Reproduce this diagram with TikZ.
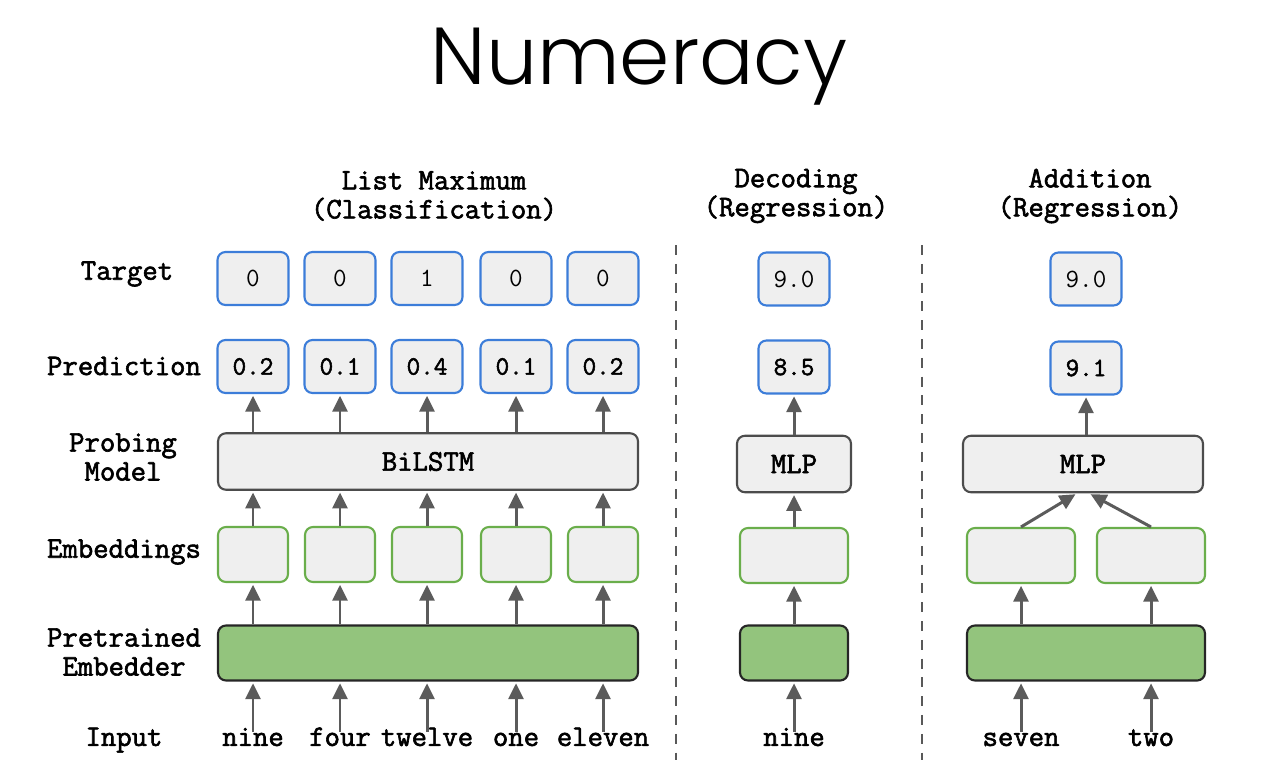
\documentclass[tikz,border=0pt]{standalone}
\usepackage{fontspec}
\setmonofont{Latin Modern Mono}[AutoFakeBold=2]
\newfontfamily\titlefont{Poppins}[UprightFont=* Light]
\usetikzlibrary{arrows.meta}
\definecolor{boxgray}{HTML}{EFEFEF}
\definecolor{blueline}{HTML}{3C7DD9}
\definecolor{greenline}{HTML}{6AAE4B}
\definecolor{greenfill}{HTML}{93C47D}
\definecolor{arrowgray}{HTML}{5B5B5B}
\tikzset{
  lbl/.style = {font=\ttfamily\bfseries\fontsize{17}{16.5}\selectfont, align=center, inner sep=1pt},
  word/.style = {lbl, text height=1.6ex, text depth=0.3ex},
  valbox/.style = {rectangle, rounded corners=4.5pt, draw=blueline, line width=1.2pt, fill=boxgray,
    minimum width=1.42cm, minimum height=1.06cm, font=\ttfamily\fontsize{15}{17}\selectfont},
  predbox/.style = {valbox, font=\ttfamily\bfseries\fontsize{15}{17}\selectfont},
  modelbox/.style = {rectangle, rounded corners=4.5pt, draw=black!70, line width=1.2pt, fill=boxgray,
    minimum height=1.13cm, font=\ttfamily\bfseries\fontsize{17}{19}\selectfont},
  embbox/.style = {rectangle, rounded corners=4.5pt, draw=greenline, line width=1.2pt, fill=boxgray,
    minimum width=1.4cm, minimum height=1.1cm},
  pretbox/.style = {rectangle, rounded corners=4.5pt, draw=black!85, line width=1.2pt, fill=greenfill,
    minimum height=1.1cm},
  arr/.style = {draw=arrowgray, fill=arrowgray, line width=1.7pt, shorten >=1pt,
    -{Triangle[width=8.5pt, length=9pt]}},
  divider/.style = {draw=black!65, line width=1.1pt, dash pattern=on 5.7pt off 5pt}
}
\begin{document}
\begin{tikzpicture}[x=0.02cm, y=-0.02cm]
\useasboundingbox (0,0) rectangle (1270,778);
\node (title) at (639,84) [anchor=base, font=\titlefont\fontsize{46}{50}\selectfont] {Numeracy};

% row labels
\node (lTarget) at (127,274) [lbl] {Target};
\node (lPred) at (124,366) [lbl] {Prediction};
\node (lProbe) at (123,457) [lbl] {Probing\\Model};
\node (lEmb) at (124,552) [lbl] {Embeddings};
\node (lPret) at (124,652) [lbl] {Pretrained\\Embedder};
\node (lInput) at (124,741) [word] {Input};

% column titles
\node (tList) at (434,196) [lbl] {List Maximum\\(Classification)};
\node (tDec) at (796,196) [lbl] {Decoding\\(Regression)};
\node (tAdd) at (1090,196) [lbl] {Addition\\(Regression)};

% dividers
\coordinate (d1top) at (676,245);
\coordinate (d1bot) at (676,760);
\coordinate (d2top) at (922,245);
\coordinate (d2bot) at (922,760);
\draw [divider] (d1top) -- (d1bot);
\draw [divider] (d2top) -- (d2bot);

% list maximum
\node (bilstm) at (428,461.5) [modelbox, minimum width=8.4cm] {BiLSTM};
\node (pretL) at (428,653) [pretbox, minimum width=8.4cm] {};
\foreach \i/\x/\t/\p/\w in {1/253/0/0.2/nine, 2/340/0/0.1/four, 3/427/1/0.4/twelve,
                            4/516/0/0.1/one, 5/603/0/0.2/eleven} {
  \node (tgt\i) at (\x,278.5) [valbox] {\t};
  \node (pred\i) at (\x,366.5) [predbox] {\p};
  \node (emb\i) at (\x,554.5) [embbox] {};
  \node (in\i) at (\x,741) [word] {\w};
  \draw [arr] (pred\i |- bilstm.north) -- (pred\i.south);
  \draw [arr] (emb\i.north) -- (emb\i |- bilstm.south);
  \draw [arr] (emb\i |- pretL.north) -- (emb\i.south);
  \draw [arr] (in\i.north) -- (in\i |- pretL.south);
}

% decoding
\node (tgtD) at (794,279) [valbox] {9.0};
\node (predD) at (794,367) [predbox] {8.5};
\node (mlpD) at (794,464) [modelbox, minimum width=2.28cm] {MLP};
\node (embD) at (794,555.5) [embbox, minimum width=2.16cm] {};
\node (pretD) at (794,653) [pretbox, minimum width=2.16cm] {};
\node (inD) at (794,741) [word] {nine};
\draw [arr] (mlpD.north) -- (predD.south);
\draw [arr] (embD.north) -- (mlpD.south);
\draw [arr] (pretD.north) -- (embD.south);
\draw [arr] (inD.north) -- (pretD.south);

% addition
\node (tgtA) at (1086,279) [valbox] {9.0};
\node (predA) at (1086,368) [predbox] {9.1};
\node (mlpA) at (1083,464) [modelbox, minimum width=4.8cm] {MLP};
\node (pretA) at (1086,653) [pretbox, minimum width=4.76cm] {};
\draw [arr] (predA |- mlpA.north) -- (predA.south);
\foreach \i/\x/\w/\tip in {1/1021/seven/-6, 2/1151/two/6} {
  \node (embA\i) at (\x,555.5) [embbox, minimum width=2.16cm] {};
  \node (inA\i) at (\x,741) [word] {\w};
  \draw [arr] (embA\i.north) -- ([xshift=\tip*0.02cm]mlpA.south);
  \draw [arr] (embA\i |- pretA.north) -- (embA\i.south);
  \draw [arr] (inA\i.north) -- (inA\i |- pretA.south);
}
\end{tikzpicture}
\end{document}
